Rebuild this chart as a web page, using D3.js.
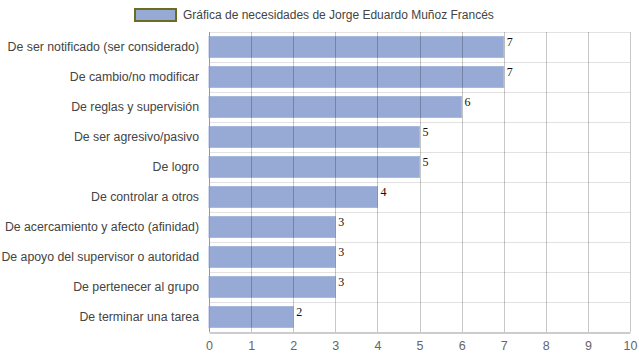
<!DOCTYPE html>
<html><head><meta charset="utf-8">
<script src="https://cdn.jsdelivr.net/npm/d3@7"></script>
<style>body{margin:0;background:#fff}svg{display:block}</style>
</head><body>
<svg id="c" width="639" height="360"></svg>
<script>
const categories = ["De ser notificado (ser considerado)","De cambio/no modificar","De reglas y supervisión","De ser agresivo/pasivo","De logro","De controlar a otros","De acercamiento y afecto (afinidad)","De apoyo del supervisor o autoridad","De pertenecer al grupo","De terminar una tarea"];
const values = [7,7,6,5,5,4,3,3,3,2];
const xTicks = [0,1,2,3,4,5,6,7,8,9,10];
const seriesName = "Gráfica de necesidades de Jorge Eduardo Muñoz Francés";

const svg = d3.select("#c");
const m = {l:209, r:630, t:32, b:332};
const x = d3.scaleLinear().domain([0,10]).range([m.l, m.r]);
const y = d3.scaleBand().domain(categories).range([m.t, m.b]).paddingInner(0.3).paddingOuter(0.15);
const band = d3.scaleBand().domain(categories).range([m.t, m.b]);

svg.append("g").selectAll("line").data(categories).join("line")
  .attr("x1", m.l).attr("x2", m.r)
  .attr("y1", d => Math.round(band(d))+0.5).attr("y2", d => Math.round(band(d))+0.5)
  .attr("stroke", "#e2e2e2");

svg.append("g").selectAll("rect").data(values).join("rect")
  .attr("x", x(0)).attr("y", (d,i) => y(categories[i]))
  .attr("width", d => x(d) - x(0)).attr("height", y.bandwidth())
  .attr("fill", "#97aad5").attr("stroke", "#a9b9dd").attr("stroke-width", 1);

svg.append("g").selectAll("line").data(xTicks.slice(1)).join("line")
  .attr("x1", d => Math.round(x(d))+0.5).attr("x2", d => Math.round(x(d))+0.5)
  .attr("y1", m.t).attr("y2", m.b)
  .attr("stroke", "rgba(0,0,0,0.22)");

const ax = svg.append("g").attr("transform", `translate(0,${m.b}.5)`)
  .call(d3.axisBottom(x).tickValues(xTicks).tickSize(0).tickPadding(9).tickFormat(d3.format("d")));
ax.select(".domain").attr("stroke", "#999");
ax.selectAll("text").attr("fill", "#666").style("font-family", "Arial, 'Liberation Sans', sans-serif").style("font-size", "12.5px");

svg.append("line").attr("x1", m.l+0.5).attr("x2", m.l+0.5).attr("y1", m.t).attr("y2", m.b)
  .attr("stroke", "#999");

svg.append("g").selectAll("text").data(categories).join("text")
  .attr("x", 199).attr("y", d => y(d) + y.bandwidth()/2)
  .attr("dy", "0.35em").attr("text-anchor", "end")
  .attr("fill", "#444").style("font-family", "Arial, 'Liberation Sans', sans-serif").style("font-size", "12.3px")
  .text(d => d);

svg.append("g").selectAll("text").data(values).join("text")
  .attr("x", d => x(d) + 3).attr("y", (d,i) => y(categories[i]) + 9)
  .attr("fill", "#111").style("font-family", "'Liberation Serif', 'Times New Roman', serif").style("font-size", "12px")
  .text(d => d);

svg.append("rect").attr("x", 135).attr("y", 9).attr("width", 41).attr("height", 12)
  .attr("fill", "#97aad5").attr("stroke", "#6b6b22").attr("stroke-width", 2);
svg.append("text").attr("x", 183).attr("y", 15).attr("dy", "0.35em")
  .attr("fill", "#444").style("font-family", "Arial, 'Liberation Sans', sans-serif").style("font-size", "12px")
  .text(seriesName);
</script>
</body></html>
